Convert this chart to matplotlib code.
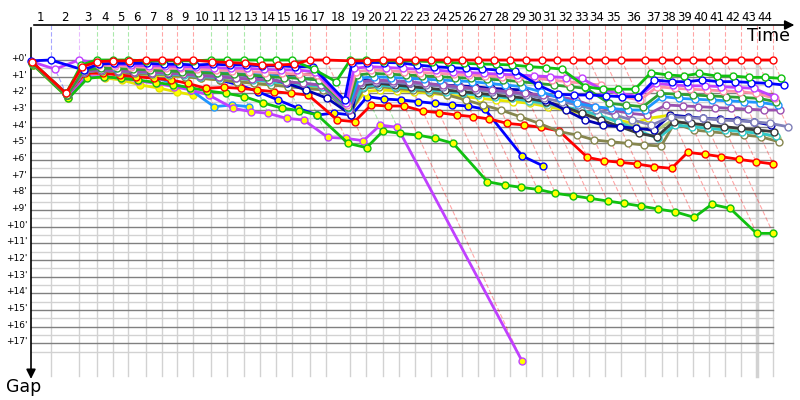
import matplotlib
matplotlib.use('Agg')
import matplotlib.pyplot as plt
import numpy as np

# leader lap times (s) and who led each lap
lap_times = [154, 220, 138, 125, 122, 136, 125, 117, 122, 143, 129, 125, 125, 128, 125,
             137, 128, 189, 125, 130, 125, 122, 128, 125, 117, 122, 125, 125, 128, 125,
             117, 122, 125, 122, 130, 184, 128, 117, 129, 125, 125, 122, 125, 122]
leaders = ['blue', 'violet', 'green', 'green', 'green', 'red', 'red', 'red', 'red',
           'green', 'green', 'green', 'green', 'green', 'green', 'red', 'red', 'green',
           'green'] + ['red'] * 25
lap_labels = [str(i) for i in range(1, 45)]
gap_ticks = list(range(0, 18))

# gaps to the leader (minutes), one value per completed lap, lap 0 first
red_w = [0.1, 2.0, 0.4, 0.1, 0.05, 0.05, 0, 0, 0, 0,
         0.1, 0.15, 0.2, 0.3, 0.3, 0.25, 0, 0, 0.05, 0.05,
         0, 0, 0, 0, 0, 0, 0, 0, 0, 0, 0, 0, 0, 0, 0, 0, 0, 0, 0, 0, 0, 0, 0, 0, 0]
green_w = [0.15, 2.0, 0.3, 0, 0, 0, 0.05, 0.05, 0.05, 0.05,
           0, 0, 0, 0, 0, 0, 0.56, 1.3, 0, 0,
           0.05, 0.05, 0.06, 0.1, 0.14, 0.2, 0.24, 0.26, 0.3, 0.4,
           0.46, 0.54, 1.6, 1.75, 1.75, 1.75, 0.76, 0.9, 0.96, 0.8,
           0.96, 0.96, 1.04, 1.04, 1.1]
blue_w = [0.05, 0, 0.6, 0.25, 0.2, 0.2, 0.2, 0.25, 0.25, 0.3,
          0.25, 0.3, 0.3, 0.35, 0.35, 0.4, 0.4, 2.4, 0.2, 0.15,
          0.15, 0.17, 0.3, 0.4, 0.46, 0.5, 0.54, 0.6, 0.64, 1.5,
          2.05, 2.1, 2.1, 2.15, 2.2, 2.2, 1.2, 1.3, 1.3, 1.2,
          1.3, 1.3, 1.35, 1.4, 1.5]
violet_w = [0.1, 0.55, 0, 0.2, 0.25, 0.3, 0.35, 0.35, 0.4, 0.4,
            0.45, 0.5, 0.5, 0.55, 0.6, 0.6, 0.7, 2.6, 0.5, 0.4,
            0.45, 0.5, 0.55, 0.6, 0.7, 0.75, 0.8, 0.85, 0.9, 0.95,
            1.0, 1.05, 1.1, 1.8, 2.0, 2.2, 1.4, 1.5, 1.55, 1.55,
            1.6, 1.65, 1.7, 2.2]
pink_w = [0.15, 2.0, 0.4, 0.3, 0.35, 0.4, 0.45, 0.5, 0.5, 0.55,
          0.6, 0.65, 0.7, 0.75, 0.8, 0.85, 0.9, 2.7, 0.7, 0.6,
          0.65, 0.7, 0.75, 0.8, 0.85, 0.9, 0.95, 1.0, 1.05, 1.1,
          1.2, 1.3, 1.4, 1.5, 2.2, 2.4, 1.6, 1.7, 1.75, 1.8,
          1.85, 1.9, 2.0, 2.3]
forest_w = [0.2, 2.1, 0.6, 0.5, 0.5, 0.55, 0.6, 0.65, 0.7, 0.75,
            0.8, 0.85, 0.9, 1.0, 1.05, 1.1, 1.2, 2.8, 0.9, 0.8,
            0.85, 0.9, 0.95, 1.0, 1.05, 1.1, 1.15, 1.2, 1.3, 1.4,
            1.5, 1.6, 1.7, 2.6, 2.7, 2.8, 2.0, 2.05, 2.1, 2.15,
            2.2, 2.25, 2.3, 2.5]
sky_w = [0.15, 2.0, 0.5, 0.4, 0.45, 0.5, 0.55, 0.6, 0.65, 0.7,
         0.75, 0.8, 0.85, 0.9, 1.0, 1.1, 1.2, 2.9, 1.1, 1.0,
         1.05, 1.1, 1.15, 1.2, 1.25, 1.3, 1.4, 1.5, 1.6, 1.9,
         2.3, 2.6, 2.8, 2.9, 3.0, 3.0, 2.2, 2.3, 2.35, 2.4,
         2.45, 2.5, 2.55, 2.7]
purple_w = [0.2, 2.1, 0.7, 0.6, 0.65, 0.7, 0.75, 0.8, 0.85, 0.95,
            1.0, 1.1, 1.15, 1.2, 1.3, 1.4, 1.5, 3.0, 1.3, 1.2,
            1.25, 1.3, 1.4, 1.5, 1.6, 1.7, 1.8, 1.9, 2.0, 2.1,
            2.2, 2.4, 2.8, 3.0, 3.2, 3.3, 2.7, 2.75, 2.8, 2.85,
            2.9, 2.95, 3.0, 3.0]
slate_w = [0.2, 2.0, 0.6, 0.5, 0.55, 0.6, 0.65, 0.7, 0.8, 0.85,
           0.9, 1.0, 1.1, 1.2, 1.3, 1.4, 1.5, 3.0, 1.4, 1.3,
           1.35, 1.4, 1.5, 1.6, 1.7, 1.8, 1.9, 2.0, 2.1, 2.3,
           2.5, 2.7, 3.0, 3.3, 3.6, 3.9, 3.4, 3.45, 3.5, 3.6,
           3.65, 3.7, 3.8, 4.0]
navy_w = [0.2, 2.0, 0.5, 0.4, 0.5, 0.6, 0.7, 0.75, 0.8, 0.9,
          0.95, 1.0, 1.05, 1.1, 1.4, 1.8, 2.3, 3.3, 1.1, 1.3,
          1.35, 1.4, 1.45, 1.5, 1.55, 1.6, 1.7, 1.75, 1.8, 2.4,
          3.0, 3.6, 3.9, 4.0, 4.1, 4.2, 3.3, 3.4, 3.5, 3.55,
          3.6, 3.7, 3.9]
black_w = [0.2, 2.1, 0.6, 0.55, 0.6, 0.65, 0.7, 0.75, 0.8, 0.85,
           0.9, 0.95, 1.0, 0.95, 0.9, 0.9, 0.8, 2.6, 1.5, 1.4,
           1.5, 1.6, 1.7, 1.8, 1.9, 2.0, 2.1, 2.2, 2.3, 2.5,
           2.8, 3.2, 3.6, 4.0, 4.4, 4.6, 3.7, 3.8, 3.9, 4.0,
           4.1, 4.2, 4.3]
turq_w = [0.2, 2.1, 0.7, 0.6, 0.65, 0.7, 0.8, 0.85, 0.9, 1.0,
          1.05, 1.1, 1.2, 1.3, 1.4, 1.5, 1.6, 3.1, 1.6, 1.5,
          1.6, 1.7, 1.8, 1.9, 2.0, 2.1, 2.2, 2.3, 2.45, 2.6,
          2.8, 3.0, 3.3, 3.7, 4.2, 4.7, 3.9, 4.0, 4.1, 4.2,
          4.3, 4.4, 4.56]
olive_w = [0.25, 2.1, 0.7, 0.65, 0.7, 0.8, 0.85, 0.9, 1.0, 1.1,
           1.2, 1.3, 1.4, 1.5, 1.6, 1.7, 1.8, 3.2, 1.7, 1.6,
           1.7, 1.8, 1.9, 2.1, 2.4, 2.7, 3.0, 3.4, 3.8, 4.3,
           4.5, 4.8, 4.9, 5.0, 5.1, 5.16, 3.8, 4.2, 4.3, 4.4,
           4.5, 4.6, 4.9]
ygreen_w = [0.2, 2.0, 0.6, 0.55, 0.6, 0.7, 0.75, 0.8, 0.9, 0.95,
            1.0, 1.1, 1.2, 1.3, 1.4, 1.5, 1.6, 3.0, 1.5, 1.45,
            1.5, 1.6, 1.7, 1.8, 1.9, 2.0, 2.1, 2.3, 2.5, 2.7,
            2.9, 3.1, 3.4, 3.7, 4.0, 4.3, 3.6, 3.9, 4.0, 4.1,
            4.2, 4.3, 4.7]
yellow_w = [0.2, 2.1, 0.7, 0.6, 0.7, 0.8, 0.9, 0.95, 1.0, 1.1,
            1.2, 1.3, 1.4, 1.5, 1.55, 1.6, 1.7, 3.1, 1.9, 1.8,
            1.85, 1.9, 2.0, 2.1, 2.2, 2.3, 2.4, 2.5, 2.6, 2.8,
            3.0, 3.2, 3.4, 3.6, 3.8, 3.5, 3.3]
red_y = [0.2, 2.1, 0.8, 0.8, 0.9, 1.0, 1.1, 1.2, 1.4, 1.7,
         1.64, 1.7, 1.8, 1.9, 2.0, 2.1, 3.6, 3.7, 2.7, 2.76,
         2.76, 3.06, 3.16, 3.3, 3.4, 3.54, 3.8, 3.9, 4.04, 4.26,
         5.84, 6.04, 6.14, 6.24, 6.4, 6.5, 5.54, 5.66, 5.8, 5.96,
         6.1, 6.24]
green_y = [0.3, 2.3, 1.1, 1.0, 1.1, 1.2, 1.35, 1.5, 1.65, 1.85,
           2.0, 2.2, 2.58, 2.88, 3.04, 3.3, 5.0, 5.26, 4.26, 4.4,
           4.5, 4.7, 5.0, 7.3, 7.5, 7.64, 7.76, 8.0, 8.14, 8.3,
           8.46, 8.6, 8.76, 8.94, 9.1, 9.44, 8.66, 8.9, 10.4, 10.4]
blue_y = [0.2, 2.0, 0.6, 0.5, 0.55, 0.6, 0.7, 0.8, 0.9, 1.0,
          1.2, 1.5, 1.9, 2.4, 2.9, 3.3, 3.18, 3.3, 2.2, 2.34,
          2.4, 2.5, 2.6, 2.7, 2.76, 2.96, 5.76, 6.34]
violet_y = [0.2, 2.2, 1.0, 1.0, 1.1, 1.25, 1.4, 1.6, 1.8, 2.1,
            2.9, 3.1, 3.2, 3.5, 3.6, 4.64, 4.7, 4.84, 3.9, 4.04,
            18.04]
sky_y = [0.15, 2.0, 0.7, 0.7, 0.75, 0.85, 1.0, 1.4, 1.8, 2.8, 2.7, 2.8]
yellow_y = [0.3, 2.3, 1.02, 1.08, 1.2, 1.5, 1.68, 1.92, 2.1]

# (gaps, line colour, marker fill), back to front
series = [
    (yellow_y, '#e6e600', '#ffff00'),
    (sky_y, '#1e96ff', '#ffff00'),
    (violet_y, '#c040ff', '#ffff00'),
    (blue_y, '#0000ff', '#ffff00'),
    (green_y, '#10c010', '#ffff00'),
    (red_y, '#ff0000', '#ffff00'),
    (yellow_w, '#e6e600', 'white'),
    (ygreen_w, '#b4c878', 'white'),
    (olive_w, '#86864e', 'white'),
    (turq_w, '#30c8c8', 'white'),
    (black_w, '#3a3a3a', 'white'),
    (navy_w, '#0000b4', 'white'),
    (slate_w, '#8080b8', 'white'),
    (purple_w, '#9a50b0', 'white'),
    (sky_w, '#1e96ff', 'white'),
    (forest_w, '#30a030', 'white'),
    (pink_w, '#ff90a8', 'white'),
    (violet_w, '#c040ff', 'white'),
    (blue_w, '#0000ff', 'white'),
    (green_w, '#10c010', 'white'),
    (red_w, '#ff0000', 'white'),
]
lead_colors = {'red': '#ff0000', 'green': '#10c010', 'blue': '#0000ff', 'violet': '#c040ff'}

t = np.concatenate([[0], np.cumsum(lap_times)]) / 60.0   # leader time, minutes
PX_X, PX_Y = 7.7, 16.67   # pixels per minute
top_gap = (25 - 60) / PX_Y
bot_gap = (376 - 60) / PX_Y

fig = plt.figure(figsize=(8, 4), dpi=100)
ax = fig.add_axes([0, 0, 1, 1])
ax.set_xlim(-31 / PX_X, (800 - 31) / PX_X)
ax.set_ylim((400 - 60) / PX_Y, -60 / PX_Y)
ax.axis('off')

# grid
for g in gap_ticks:
    ax.plot([0, t[-1]], [g + 0.5, g + 0.5], color='#d2d2d2', lw=1, zorder=1)
    ax.plot([0, t[-1]], [g, g], color='#808080', lw=1, zorder=1.2)
for k in range(1, len(t)):
    lw = 2.5 if k == 43 else 1
    ax.plot([t[k], t[k]], [0, bot_gap], color='#d2d2d2', lw=lw, zorder=1.1)
    ax.plot([t[k], t[k]], [top_gap, 0], color=lead_colors[leaders[k - 1]],
            lw=0.8, ls=(0, (4, 2)), alpha=0.35, zorder=1.3)

# lap lines: cars completing lap k sit on the diagonal gap = x - t_k
for k in range(1, len(t)):
    gmax = max(s[0][k] for s in series if len(s[0]) > k)
    ax.plot([t[k], t[k] + gmax], [0, gmax], color=lead_colors[leaders[k - 1]],
            lw=0.8, ls=(0, (4, 2)), alpha=0.35, zorder=1.4)

# cars: x = leader time + gap
for z, (gaps, col, fill) in enumerate(series):
    g = np.array(gaps, dtype=float)
    x = t[:len(g)] + g
    ax.plot(x, g, color=col, lw=2, marker='o', ms=5, mfc=fill, mec=col,
            mew=1, zorder=3 + z * 0.1, clip_on=False)

# axes with arrows
ax.annotate('', xy=(99.5, top_gap), xytext=(0, top_gap),
            arrowprops=dict(arrowstyle='-|>', color='black', lw=1.2, mutation_scale=14))
ax.annotate('', xy=(0, 19.3), xytext=(0, top_gap),
            arrowprops=dict(arrowstyle='-|>', color='black', lw=1.2, mutation_scale=14))
ax.text(95.8, -1.45, 'Time', fontsize=12.5, ha='center', va='center')
ax.text(-0.9, 19.6, 'Gap', fontsize=12.5, ha='center', va='center')

for k, lab in enumerate(lap_labels, start=1):
    xc = (t[k - 1] + t[k]) / 2
    ax.text(xc, -2.55, lab, fontsize=8.5, ha='center', va='center')
for g in gap_ticks:
    ax.text(-0.5, g - 0.1, "+%d'" % g, fontsize=6.5, ha='right', va='center')

fig.savefig('out.png', dpi=100)
